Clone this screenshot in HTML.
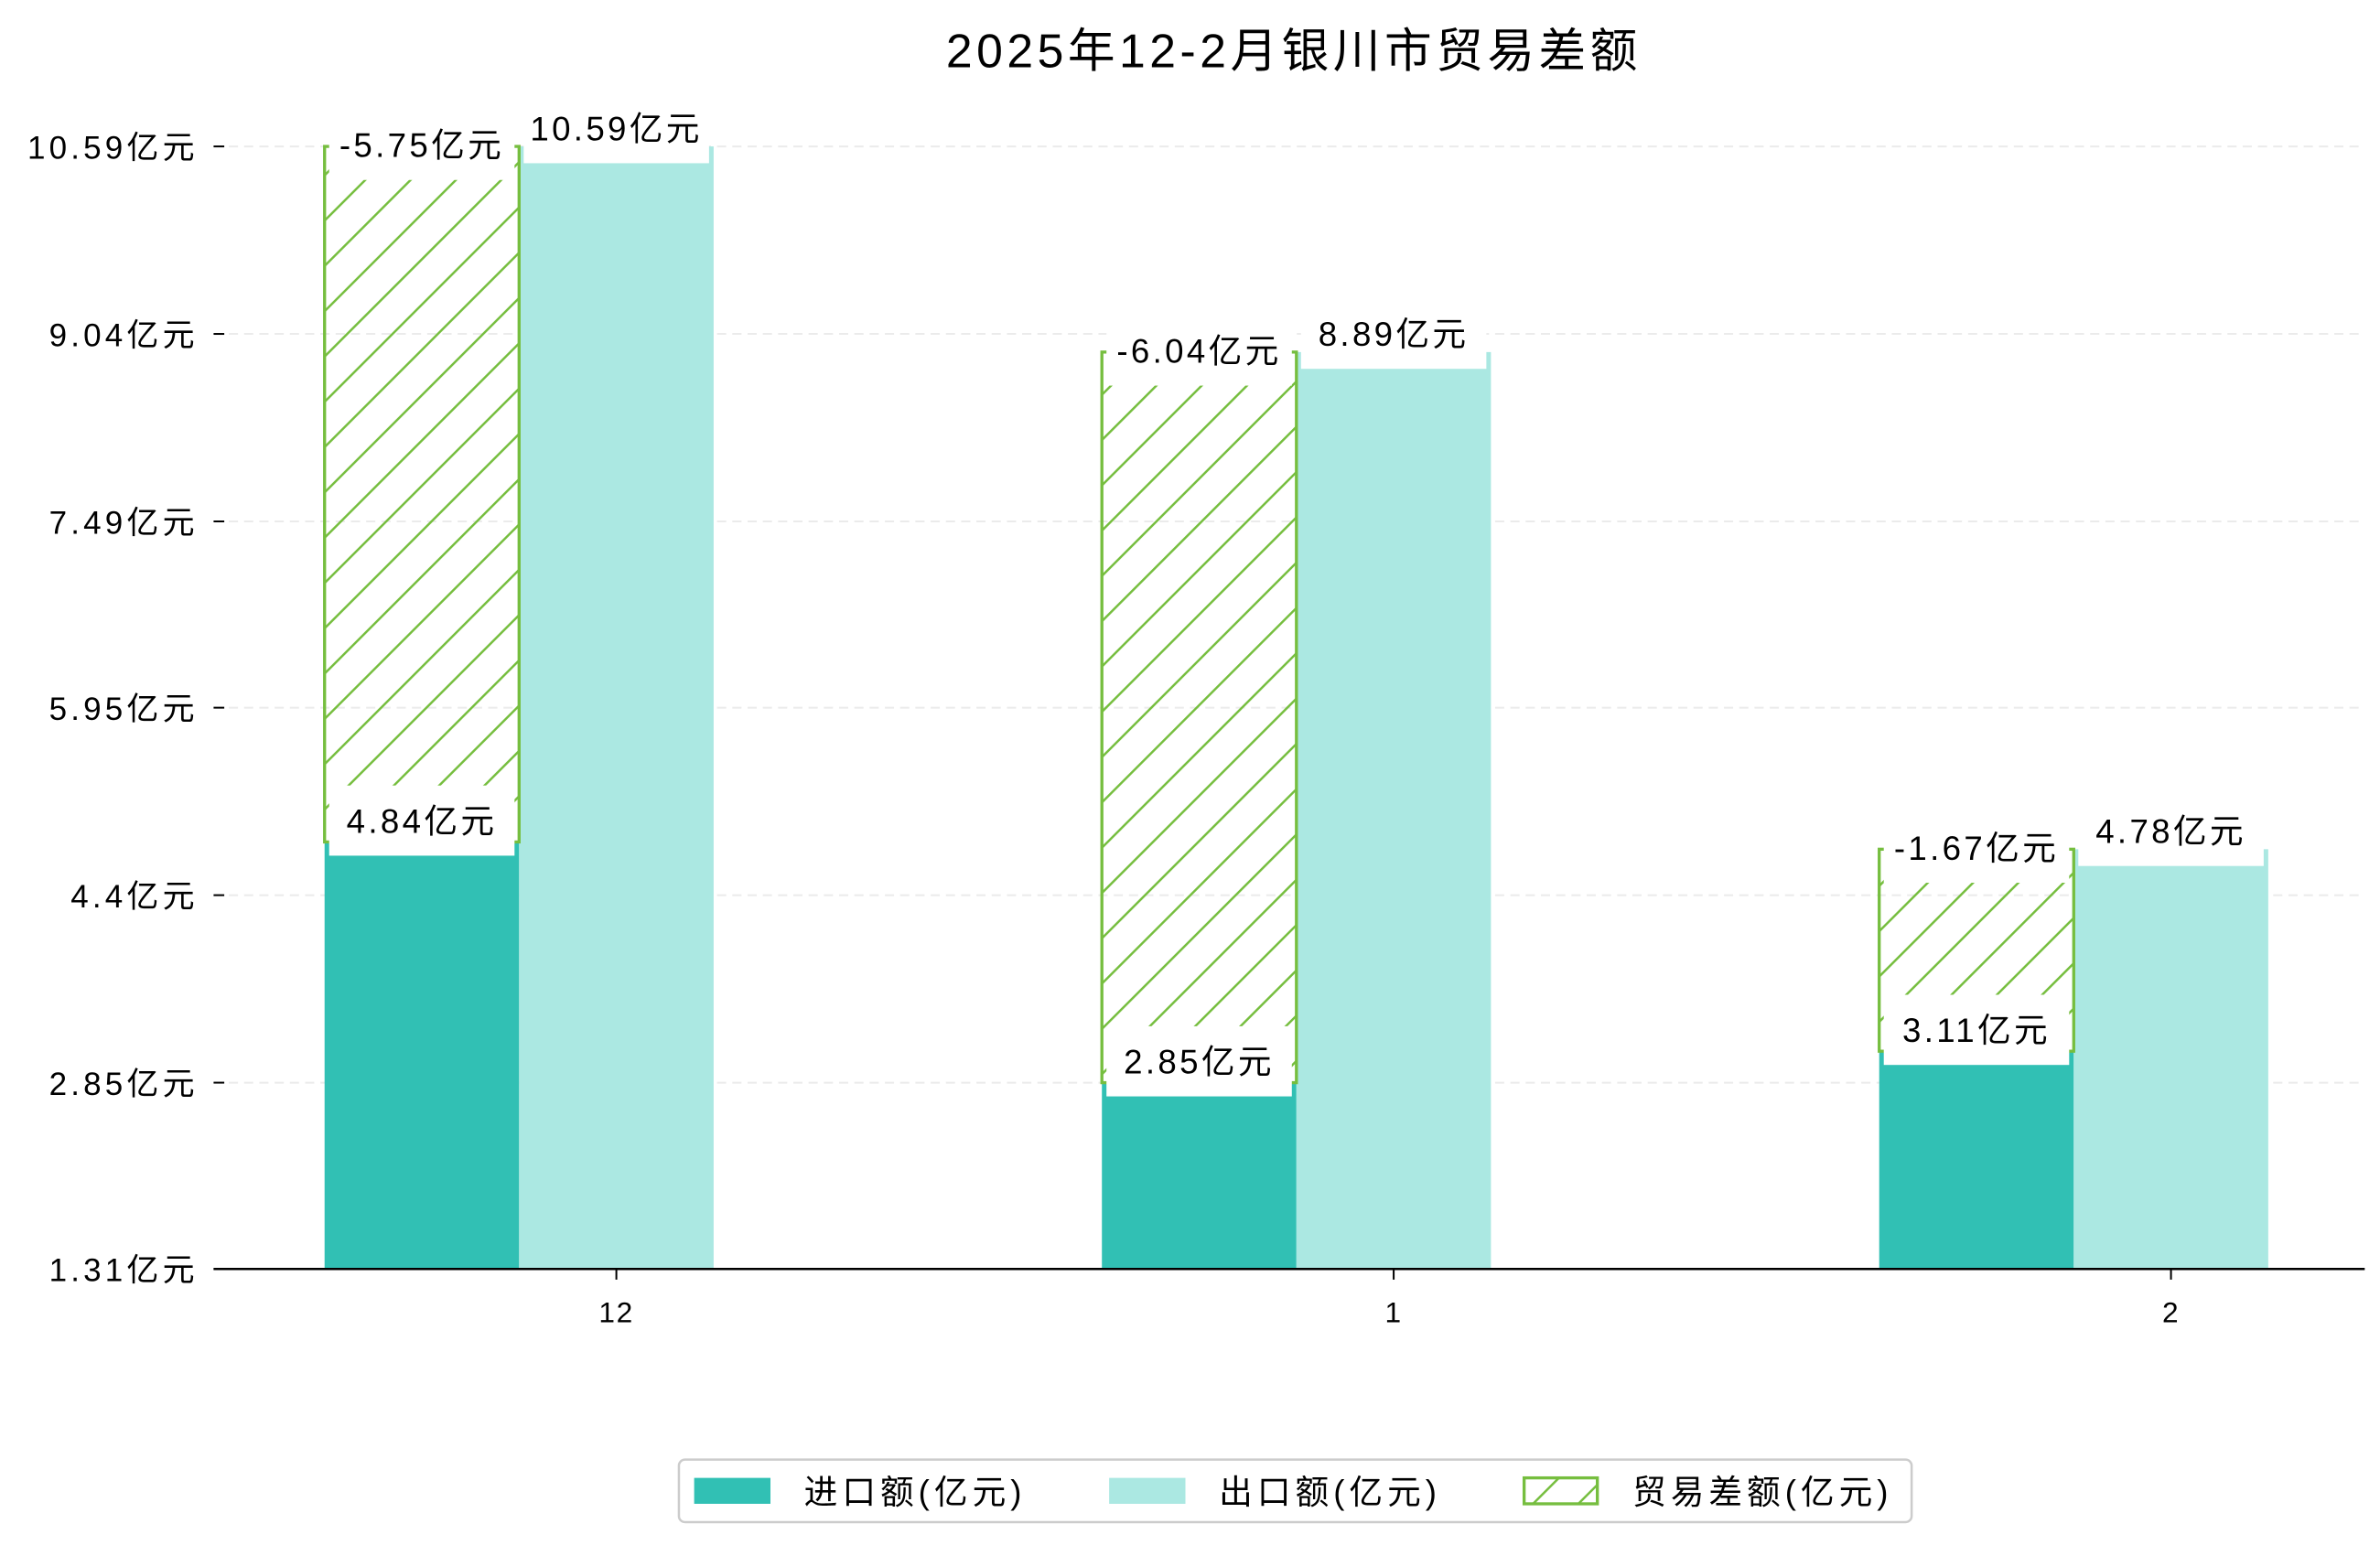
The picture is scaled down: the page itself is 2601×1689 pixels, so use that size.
<!DOCTYPE html>
<html><head><meta charset="utf-8"><style>
html,body{margin:0;padding:0;background:#fff;}
svg{display:block;font-family:"Liberation Sans","Noto Sans CJK SC",sans-serif;}
</style></head><body>
<svg id="chart" width="2601" height="1689" viewBox="0 0 1560 1013" xmlns="http://www.w3.org/2000/svg">
<defs>
<pattern id="hatch" patternUnits="userSpaceOnUse" width="21" height="21" patternTransform="rotate(45)">
<line x1="0" y1="0" x2="0" y2="21" stroke="#76BE3F" stroke-width="3"/>
</pattern>
</defs>
<text x="848" y="44" text-anchor="middle" font-size="31" letter-spacing="2.7" fill="#000">2025年12-2月银川市贸易差额</text>
<g id="grid"></g><g id="bars"></g><g id="axes"></g><g id="labels"></g>
<g>
<rect x="445" y="957" width="808" height="41" rx="4" fill="#fff" stroke="#ccc" stroke-width="1.5"/>
<rect x="455" y="969" width="50" height="17" fill="#31C0B4"/>
<text x="527" y="986" font-size="22" letter-spacing="3">进口额(亿元)</text>
<rect x="727" y="969" width="50" height="17" fill="#ABE8E2"/>
<text x="799" y="986" font-size="22" letter-spacing="3">出口额(亿元)</text>
<rect x="999" y="969" width="48" height="17" fill="url(#hatch)" stroke="#76BE3F" stroke-width="2"/>
<text x="1070" y="986" font-size="22" letter-spacing="3">贸易差额(亿元)</text>
</g>
</svg>
<script>
const categories = ["12", "1", "2"];
const importVals = [4.84, 2.85, 3.11];
const exportVals = [10.59, 8.89, 4.78];
const balanceVals = [-5.75, -6.04, -1.67];
const tickVals = [1.31, 2.85, 4.4, 5.95, 7.49, 9.04, 10.59];
const tickLabels = ["1.31亿元", "2.85亿元", "4.4亿元", "5.95亿元", "7.49亿元", "9.04亿元", "10.59亿元"];

const NS = "http://www.w3.org/2000/svg";
const X0 = 140, X1 = 1550, Y0 = 832, Y1 = 96, VMIN = 1.31, VMAX = 10.59;
const BW = 127.5;
function yScale(v){ return Y0 - (v - VMIN) / (VMAX - VMIN) * (Y0 - Y1); }
function xCenter(i){ return 404 + i * 509.5; }
function mk(tag, attrs, parent){
  const e = document.createElementNS(NS, tag);
  for (const k in attrs) e.setAttribute(k, attrs[k]);
  parent.appendChild(e);
  return e;
}
const grid = document.getElementById('grid');
const bars = document.getElementById('bars');
const axes = document.getElementById('axes');
const labels = document.getElementById('labels');

tickVals.forEach((v, i) => {
  const y = yScale(v);
  if (i > 0) {
    const g = mk('line', {x1: X0, x2: X1, y1: y, y2: y, stroke: '#ebebeb', 'stroke-width': 1.2, 'stroke-dasharray': '6 4'}, grid);
    
    
  }
  const t = mk('line', {x1: X0, x2: X0 + 7, y1: y, y2: y, stroke: '#000', 'stroke-width': 1.2}, axes);
  
  
  const l = mk('text', {x: 130, y: y + 8, 'text-anchor': 'end', 'font-size': 21, 'letter-spacing': 2.5}, axes);
  l.textContent = tickLabels[i];
  
  
});
const ax = mk('line', {x1: X0, x2: X1, y1: Y0, y2: Y0, stroke: '#000', 'stroke-width': 1.5}, axes);



function addLabel(cx, cy, txt, name){
  const w = Math.max(BW - 6, txt.length * 13 + 10);
  const r = mk('rect', {x: cx - w / 2, y: cy - 23, width: w, height: 46, fill: '#fff'}, labels);
  
  
  const t = mk('text', {x: cx, y: cy + 8, 'text-anchor': 'middle', 'font-size': 22, 'letter-spacing': 2}, labels);
  t.textContent = txt;
  
  
}

categories.forEach((c, i) => {
  const cx = xCenter(i);
  const xi = cx - BW * 1.5, xe = cx - BW / 2;
  const yi = yScale(importVals[i]);
  const ye = yScale(exportVals[i]);
  const yb = yScale(importVals[i] + Math.abs(balanceVals[i]));
  const bi = mk('rect', {x: xi, y: yi, width: BW, height: Y0 - yi, fill: '#31C0B4'}, bars);
  
  
  const be = mk('rect', {x: xe, y: ye, width: BW, height: Y0 - ye, fill: '#ABE8E2'}, bars);
  
  
  const bb = mk('rect', {x: xi, y: yb, width: BW, height: yi - yb, fill: 'url(#hatch)', stroke: '#76BE3F', 'stroke-width': 2}, bars);
  
  
  const tk = mk('line', {x1: cx, x2: cx, y1: Y0, y2: Y0 + 7, stroke: '#000', 'stroke-width': 1.2}, axes);
  
  
  const tl = mk('text', {x: cx, y: Y0 + 35, 'text-anchor': 'middle', 'font-size': 19, 'letter-spacing': 1}, axes);
  tl.textContent = c;
  
  
  addLabel(xi + BW / 2, yi - 14, importVals[i].toFixed(2) + '亿元', 'import-value-label');
  addLabel(xe + BW / 2, ye - 12, exportVals[i].toFixed(2) + '亿元', 'export-value-label');
  addLabel(xi + BW / 2, yb - 1, balanceVals[i].toFixed(2) + '亿元', 'balance-value-label');
});
</script>
</body></html>
